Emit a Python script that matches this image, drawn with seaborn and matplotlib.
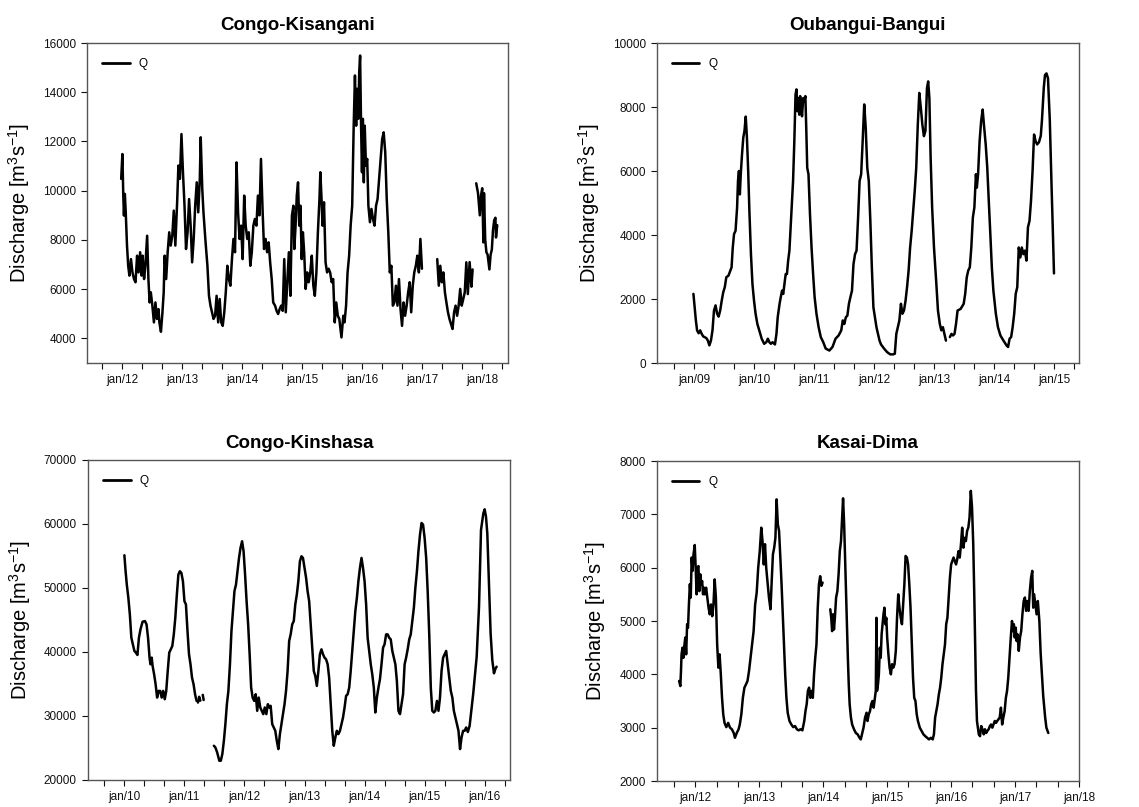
import numpy as np
import pandas as pd
import matplotlib
matplotlib.use("Agg")
import matplotlib.pyplot as plt
import seaborn as sns
from matplotlib.ticker import MultipleLocator, FuncFormatter
from matplotlib.lines import Line2D

N = None

# ---------------- Congo-Kisangani ----------------
kis_t = [2011.980, 2012.000, 2012.015, 2012.026, 2012.041, 2012.056, 2012.077, 2012.097, 2012.117, 2012.143,
         2012.168, 2012.194, 2012.219, 2012.245, 2012.270, 2012.296, 2012.321, 2012.337, 2012.362, 2012.383,
         2012.413, 2012.434, 2012.454, 2012.474, 2012.500, 2012.526, 2012.551, 2012.577, 2012.602, 2012.617,
         2012.643, 2012.668, 2012.689, 2012.704, 2012.730, 2012.755, 2012.781, 2012.806, 2012.832, 2012.857,
         2012.883, 2012.913, 2012.934, 2012.959, 2012.985, 2013.010, 2013.036, 2013.061, 2013.087, 2013.112,
         2013.138, 2013.163, 2013.189, 2013.214, 2013.240, 2013.265, 2013.291, 2013.306, 2013.332, 2013.352,
         2013.383, 2013.418, 2013.444, 2013.469, 2013.495, 2013.520, 2013.546, 2013.571, 2013.597, 2013.622,
         2013.648, 2013.673, 2013.699, 2013.724, 2013.750, 2013.776, 2013.801, 2013.827, 2013.852, 2013.878,
         2013.903, 2013.929, 2013.954, 2013.980, 2014.005, 2014.031, 2014.056, 2014.082, 2014.107, 2014.133,
         2014.158, 2014.184, 2014.209, 2014.235, 2014.260, 2014.286, 2014.311, 2014.337, 2014.362, 2014.388,
         2014.413, 2014.439, 2014.464, 2014.490, 2014.515, 2014.546, 2014.571, 2014.597, 2014.622, 2014.648,
         2014.673, 2014.699, 2014.724, 2014.750, 2014.776, 2014.801, 2014.827, 2014.852, 2014.867, 2014.888,
         2014.908, 2014.929, 2014.949, 2014.969, 2014.990, 2015.010, 2015.031, 2015.056, 2015.082, 2015.107,
         2015.133, 2015.158, 2015.184, 2015.209, 2015.235, 2015.260, 2015.286, 2015.301, 2015.321, 2015.337,
         2015.362, 2015.388, 2015.413, 2015.439, 2015.464, 2015.490, 2015.515, 2015.541, 2015.566, 2015.592,
         2015.617, 2015.653, 2015.684, 2015.704, 2015.730, 2015.755, 2015.781, 2015.806, 2015.832, 2015.857,
         2015.878, 2015.898, 2015.913, 2015.934, 2015.949, 2015.964, 2015.980, 2015.995, 2016.010, 2016.026,
         2016.041, 2016.061, 2016.082, 2016.102, 2016.128, 2016.153, 2016.179, 2016.204, 2016.230, 2016.255,
         2016.281, 2016.306, 2016.332, 2016.357, 2016.383, 2016.408, 2016.434, 2016.459, 2016.485, 2016.510,
         2016.536, 2016.561, 2016.587, 2016.612, 2016.638, 2016.663, 2016.689, 2016.714, 2016.740, 2016.765,
         2016.791, 2016.816, 2016.842, 2016.867, 2016.893, 2016.918, 2016.944, 2016.969, 2016.995, 2017.100,
         2017.250, 2017.276, 2017.301, 2017.327, 2017.352, 2017.378, 2017.403, 2017.429, 2017.454, 2017.480,
         2017.505, 2017.531, 2017.556, 2017.582, 2017.607, 2017.633, 2017.658, 2017.684, 2017.709, 2017.735,
         2017.760, 2017.790, 2017.820, 2017.840, 2017.870, 2017.900, 2017.930, 2017.960, 2017.980, 2018.000,
         2018.020, 2018.030, 2018.050, 2018.070, 2018.090, 2018.120, 2018.140, 2018.160, 2018.180, 2018.200,
         2018.220, 2018.230, 2018.250]
kis_q = [10480, 11490, 9800, 8990, 9870, 9120, 7770, 6950, 6550, 7220,
         6680, 6410, 6280, 7360, 6680, 7500, 6550, 7360, 6410, 6950,
         8170, 6410, 5460, 5870, 5330, 4650, 5460, 4790, 5190, 4650,
         4270, 5060, 5870, 7360, 6410, 7500, 8310, 7770, 8170, 9190,
         7770, 9530, 11020, 10480, 12300, 10750, 9390, 7630, 8310, 9660,
         8580, 7090, 8040, 9390, 10340, 9120, 10480, 12170, 10070, 9120,
         8040, 6950, 5730, 5330, 5060, 4790, 4920, 5730, 4650, 5600,
         4650, 4510, 5060, 5870, 6950, 6410, 6140, 7220, 8040, 7500,
         11150, 9120, 8040, 8580, 7220, 9800, 8580, 8040, 8310, 6950,
         7500, 8580, 8850, 8580, 9800, 9000, 11290, 9260, 7630, 8040,
         7500, 7900, 7090, 6410, 5460, 5330, 5120, 4990, 5190, 5330,
         5120, 7220, 5060, 6280, 7500, 5730, 8990, 9390, 7630, 8580,
         9800, 10340, 8580, 9390, 7220, 8310, 7500, 6010, 6680, 6280,
         6680, 7360, 6140, 5730, 6680, 8310, 9660, 10750, 9660, 8580,
         9530, 7090, 6680, 6830, 6680, 6280, 6410, 4650, 5460, 4920,
         4790, 4040, 4920, 4650, 5330, 6680, 7360, 8580, 9390, 12640,
         14680, 12640, 14140, 12920, 14810, 15490, 12640, 10750, 12920, 10340,
         12640, 11020, 11290, 9390, 8720, 9260, 8850, 8580, 9390, 9660,
         10480, 11290, 12100, 12370, 11560, 9660, 8310, 6680, 6950, 5330,
         5460, 6140, 5330, 6410, 5190, 4510, 5460, 4920, 5330, 5870,
         6280, 5060, 6140, 6680, 6950, 7360, 6680, 8040, 6830, N,
         7220, 6140, 6950, 6280, 6680, 5870, 5460, 5060, 4790, 4580,
         4380, 5060, 5330, 4920, 5330, 6010, 5330, 5600, 5870, 7090,
         5800, 7100, 6100, 6800, N, 10300, 9900, 9000, 9800, 10100,
         7900, 9900, 8000, 7500, 7400, 6800, 7400, 7600, 8400, 8800,
         8900, 8100, 8600]

# ---------------- Oubangui-Bangui ----------------
oub_t = [2008.990, 2009.010, 2009.031, 2009.051, 2009.077, 2009.103, 2009.128, 2009.154, 2009.205, 2009.231,
         2009.256, 2009.282, 2009.308, 2009.333, 2009.359, 2009.385, 2009.410, 2009.436, 2009.462, 2009.487,
         2009.513, 2009.538, 2009.574, 2009.605, 2009.626, 2009.646, 2009.667, 2009.692, 2009.718, 2009.733,
         2009.749, 2009.764, 2009.779, 2009.800, 2009.821, 2009.841, 2009.862, 2009.882, 2009.903, 2009.923,
         2009.949, 2009.974, 2010.000, 2010.026, 2010.056, 2010.087, 2010.128, 2010.169, 2010.205, 2010.231,
         2010.256, 2010.282, 2010.308, 2010.349, 2010.374, 2010.395, 2010.426, 2010.446, 2010.467, 2010.487,
         2010.508, 2010.528, 2010.549, 2010.569, 2010.590, 2010.610, 2010.631, 2010.651, 2010.672, 2010.692,
         2010.708, 2010.723, 2010.738, 2010.754, 2010.769, 2010.785, 2010.800, 2010.821, 2010.836, 2010.856,
         2010.872, 2010.887, 2010.908, 2010.933, 2010.959, 2010.985, 2011.010, 2011.041, 2011.077, 2011.113,
         2011.154, 2011.195, 2011.256, 2011.308, 2011.359, 2011.410, 2011.454, 2011.480, 2011.505, 2011.531,
         2011.556, 2011.582, 2011.607, 2011.633, 2011.658, 2011.684, 2011.709, 2011.735, 2011.760, 2011.786,
         2011.811, 2011.837, 2011.862, 2011.888, 2011.913, 2011.939, 2011.964, 2011.990, 2012.015, 2012.041,
         2012.066, 2012.092, 2012.117, 2012.168, 2012.219, 2012.270, 2012.321, 2012.347, 2012.372, 2012.398,
         2012.423, 2012.449, 2012.474, 2012.500, 2012.526, 2012.551, 2012.577, 2012.602, 2012.628, 2012.653,
         2012.679, 2012.704, 2012.730, 2012.755, 2012.781, 2012.806, 2012.832, 2012.857, 2012.883, 2012.903,
         2012.923, 2012.944, 2012.969, 2013.000, 2013.036, 2013.066, 2013.097, 2013.122, 2013.148, 2013.173,
         2013.199, 2013.230, 2013.265, 2013.291, 2013.316, 2013.342, 2013.367, 2013.393, 2013.444, 2013.495,
         2013.520, 2013.546, 2013.571, 2013.597, 2013.622, 2013.648, 2013.673, 2013.699, 2013.714, 2013.735,
         2013.760, 2013.786, 2013.811, 2013.837, 2013.862, 2013.888, 2013.913, 2013.939, 2013.964, 2013.990,
         2014.031, 2014.066, 2014.107, 2014.158, 2014.209, 2014.235, 2014.260, 2014.286, 2014.311, 2014.337,
         2014.362, 2014.388, 2014.413, 2014.439, 2014.464, 2014.490, 2014.515, 2014.541, 2014.566, 2014.592,
         2014.617, 2014.643, 2014.668, 2014.694, 2014.719, 2014.750, 2014.780, 2014.800, 2014.830, 2014.850,
         2014.875, 2014.900, 2014.930, 2014.960, 2014.980, 2015.000]
oub_q = [2160, 1740, 1330, 1020, 930, 1020, 910, 830, 780, 700,
         550, 700, 1020, 1640, 1800, 1540, 1450, 1640, 1950, 2210,
         2370, 2680, 2730, 2890, 2990, 3610, 4030, 4130, 4860, 5690,
         6000, 5270, 5900, 6520, 7040, 7250, 7700, 7040, 6000, 4750,
         3400, 2470, 1950, 1540, 1220, 1020, 760, 600, 650, 760,
         650, 600, 650, 580, 910, 1430, 1850, 2060, 2260, 2160,
         2470, 2780, 2780, 3200, 3510, 4240, 4960, 5690, 6930, 8390,
         8550, 7870, 8280, 7760, 8340, 8080, 7710, 8280, 8180, 8340,
         7250, 6100, 5900, 4650, 3610, 2780, 2060, 1540, 1120, 810,
         650, 450, 390, 500, 760, 860, 1020, 1330, 1220, 1430,
         1480, 1850, 2060, 2260, 3090, 3400, 3510, 4550, 5690, 5900,
         6930, 8080, 7350, 6100, 5690, 4440, 2990, 1740, 1430, 1120,
         910, 700, 580, 450, 340, 270, 270, 290, 910, 1120,
         1330, 1850, 1540, 1640, 1950, 2370, 2890, 3610, 4130, 4750,
         5380, 6100, 7450, 8440, 7970, 7450, 7090, 7250, 8590, 8800,
         8280, 6410, 4860, 3610, 2570, 1640, 1220, 1020, 1120, 910,
         700, N, 810, 910, 860, 910, 1220, 1640, 1690, 1850,
         2160, 2680, 2890, 2990, 3610, 4550, 4860, 5900, 5480, 5900,
         6930, 7560, 7920, 7350, 6830, 6100, 5070, 4030, 2990, 2260,
         1540, 1120, 860, 700, 550, 500, 760, 810, 1120, 1540,
         2160, 2370, 3610, 3300, 3610, 3400, 3510, 3200, 4240, 4440,
         5070, 6000, 7140, 6930, 6830, 6900, 7100, 7600, 8600, 9000,
         9050, 8900, 7600, 5500, 4200, 2800]

# ---------------- Congo-Kinshasa ----------------
kin_t = [2010.000, 2010.020, 2010.040, 2010.066, 2010.091, 2010.116, 2010.141, 2010.167, 2010.192, 2010.217,
         2010.242, 2010.268, 2010.303, 2010.343, 2010.369, 2010.394, 2010.419, 2010.434, 2010.455, 2010.470,
         2010.495, 2010.520, 2010.545, 2010.571, 2010.596, 2010.621, 2010.646, 2010.672, 2010.697, 2010.722,
         2010.747, 2010.773, 2010.798, 2010.823, 2010.848, 2010.874, 2010.899, 2010.924, 2010.949, 2010.975,
         2011.000, 2011.025, 2011.051, 2011.076, 2011.101, 2011.126, 2011.152, 2011.177, 2011.202, 2011.212,
         2011.225, 2011.245, 2011.265, 2011.290, 2011.305, 2011.320, 2011.340, 2011.400,
         2011.490, 2011.515, 2011.545, 2011.581, 2011.606, 2011.631, 2011.657, 2011.682, 2011.707, 2011.732,
         2011.758, 2011.783, 2011.808, 2011.833, 2011.859, 2011.884, 2011.909, 2011.934, 2011.960, 2011.985,
         2012.010, 2012.035, 2012.061, 2012.086, 2012.111, 2012.136, 2012.162, 2012.187, 2012.212, 2012.237,
         2012.263, 2012.288, 2012.313, 2012.338, 2012.364, 2012.389, 2012.414, 2012.436, 2012.462, 2012.487,
         2012.513, 2012.538, 2012.564, 2012.590, 2012.615, 2012.641, 2012.667, 2012.692, 2012.718, 2012.744,
         2012.769, 2012.795, 2012.821, 2012.846, 2012.872, 2012.897, 2012.923, 2012.949, 2012.974, 2013.000,
         2013.026, 2013.051, 2013.077, 2013.103, 2013.128, 2013.154, 2013.179, 2013.205, 2013.231, 2013.256,
         2013.282, 2013.308, 2013.333, 2013.359, 2013.385, 2013.410, 2013.436, 2013.462, 2013.487, 2013.513,
         2013.538, 2013.564, 2013.590, 2013.615, 2013.641, 2013.667, 2013.692, 2013.718, 2013.744, 2013.769,
         2013.795, 2013.821, 2013.846, 2013.872, 2013.897, 2013.923, 2013.949, 2013.974, 2014.000, 2014.026,
         2014.051, 2014.077, 2014.103, 2014.128, 2014.154, 2014.179, 2014.205, 2014.231, 2014.256, 2014.282,
         2014.308, 2014.333, 2014.359, 2014.385, 2014.410, 2014.436, 2014.462, 2014.487, 2014.513, 2014.538,
         2014.564, 2014.590, 2014.615, 2014.641, 2014.667, 2014.692, 2014.718, 2014.744, 2014.769, 2014.795,
         2014.821, 2014.846, 2014.872, 2014.897, 2014.923, 2014.949, 2014.974, 2015.000, 2015.026, 2015.051,
         2015.077, 2015.103, 2015.128, 2015.154, 2015.179, 2015.205, 2015.231, 2015.256, 2015.282, 2015.308,
         2015.333, 2015.359, 2015.385, 2015.410, 2015.436, 2015.462, 2015.487, 2015.513, 2015.538, 2015.564,
         2015.590, 2015.615, 2015.641, 2015.667, 2015.692, 2015.720, 2015.750, 2015.780, 2015.810, 2015.867,
         2015.906, 2015.939, 2015.978, 2016.000, 2016.022, 2016.044, 2016.072, 2016.099, 2016.127, 2016.155,
         2016.182, 2016.199]
kin_q = [55120, 52620, 50550, 48470, 45870, 42230, 41200, 40160, 39900, 39530,
         42230, 43530, 44730, 44830, 44310, 42230, 39120, 38080, 39120, 37820,
         36520, 34960, 32880, 33920, 33920, 32880, 33920, 32620, 33920, 37040,
         39900, 40420, 40940, 42750, 45350, 48990, 52100, 52620, 52360, 51060,
         47950, 47430, 43270, 39640, 38080, 36000, 34960, 33400, 32360, N,
         32100, 33000, 32400, N, 33300, 32500, N, N,
         25350, 25090, 24310, 23010, 23010, 24050, 26130, 28730, 31850, 33920,
         38080, 43270, 46390, 49510, 50550, 52620, 54700, 56260, 57300, 55740,
         52100, 47950, 44310, 39640, 34440, 32880, 32360, 33400, 30810, 32880,
         31330, 30810, 30290, 31330, 30290, 31850, 31330, 31590, 28730, 28210,
         27690, 26130, 24830, 27170, 28730, 30290, 31850, 33920, 37040, 41710,
         42750, 44310, 44830, 47430, 48990, 51060, 54180, 54960, 54700, 53140,
         51590, 49510, 47950, 44310, 40680, 37040, 36260, 34700, 37040, 39640,
         40420, 39640, 39120, 38860, 38080, 36000, 31850, 27690, 25350, 26650,
         27690, 27170, 27690, 28730, 29770, 31330, 33140, 33400, 34440, 37040,
         40160, 43270, 46390, 48470, 51060, 53140, 54700, 53140, 51060, 47430,
         42230, 40160, 38080, 36520, 34440, 30550, 32880, 34440, 35740, 38080,
         40680, 41200, 42750, 42750, 42230, 41970, 40160, 39120, 38080, 35480,
         30810, 30290, 31850, 33400, 38080, 39120, 40420, 41970, 42750, 44830,
         46910, 50030, 52620, 55740, 58340, 60160, 59900, 57820, 54700, 49510,
         42750, 34440, 30810, 30550, 30810, 32360, 30810, 32880, 37040, 39120,
         39640, 40160, 38080, 36000, 33920, 32880, 30810, 29770, 28730, 27690,
         24830, 26650, 27690, 27690, 28210, 27500, 28500, 31000, 33540, 39270,
         47080, 59060, 61670, 62290, 61150, 58540, 50730, 42920, 38750, 36670,
         37450, 37700]

# ---------------- Kasai-Dima ----------------
kas_t = [2011.746, 2011.765, 2011.775, 2011.784, 2011.799, 2011.813, 2011.827, 2011.842, 2011.856, 2011.871,
         2011.885, 2011.899, 2011.914, 2011.928, 2011.942, 2011.957, 2011.971, 2011.990, 2012.005, 2012.019,
         2012.034, 2012.048, 2012.062, 2012.077, 2012.091, 2012.106, 2012.120, 2012.134, 2012.149, 2012.168,
         2012.187, 2012.206, 2012.225, 2012.245, 2012.264, 2012.283, 2012.302, 2012.321, 2012.341, 2012.360,
         2012.379, 2012.398, 2012.417, 2012.436, 2012.456, 2012.484, 2012.513, 2012.542, 2012.571, 2012.600,
         2012.619, 2012.647, 2012.676, 2012.695, 2012.719, 2012.743, 2012.767, 2012.791, 2012.815, 2012.839,
         2012.863, 2012.887, 2012.911, 2012.935, 2012.959, 2012.983, 2013.007, 2013.031, 2013.050, 2013.070,
         2013.089, 2013.108, 2013.127, 2013.151, 2013.175, 2013.194, 2013.213, 2013.233, 2013.252, 2013.271,
         2013.290, 2013.309, 2013.329, 2013.348, 2013.367, 2013.386, 2013.405, 2013.424, 2013.444, 2013.472,
         2013.501, 2013.530, 2013.559, 2013.588, 2013.616, 2013.645, 2013.674, 2013.703, 2013.722, 2013.741,
         2013.760, 2013.779, 2013.799, 2013.818, 2013.837, 2013.856, 2013.875, 2013.894, 2013.914, 2013.933,
         2013.952, 2013.971, 2013.990, 2014.050,
         2014.110, 2014.125, 2014.139, 2014.153, 2014.168, 2014.182, 2014.201, 2014.221, 2014.240, 2014.259,
         2014.278, 2014.297, 2014.310, 2014.327, 2014.341, 2014.356, 2014.370, 2014.385, 2014.399, 2014.413,
         2014.433, 2014.452, 2014.481, 2014.510, 2014.538, 2014.567, 2014.587, 2014.606, 2014.630, 2014.654,
         2014.678, 2014.692, 2014.712, 2014.731, 2014.750, 2014.769, 2014.788, 2014.808, 2014.822, 2014.832,
         2014.841, 2014.856, 2014.870, 2014.885, 2014.899, 2014.913, 2014.928, 2014.942, 2014.957, 2014.971,
         2014.986, 2015.000, 2015.019, 2015.038, 2015.058, 2015.077, 2015.096, 2015.115, 2015.135, 2015.154,
         2015.173, 2015.192, 2015.212, 2015.231, 2015.250, 2015.269, 2015.288, 2015.308, 2015.327, 2015.346,
         2015.365, 2015.385, 2015.404, 2015.423, 2015.442, 2015.462, 2015.481, 2015.510, 2015.538, 2015.567,
         2015.596, 2015.625, 2015.654, 2015.683, 2015.712, 2015.731, 2015.750, 2015.769, 2015.788, 2015.808,
         2015.827, 2015.846, 2015.865, 2015.885, 2015.904, 2015.923, 2015.942, 2015.962, 2015.981, 2016.000,
         2016.019, 2016.038, 2016.058, 2016.077, 2016.096, 2016.115, 2016.135, 2016.154, 2016.173, 2016.192,
         2016.212, 2016.231, 2016.250, 2016.269, 2016.288, 2016.308, 2016.327, 2016.346, 2016.361, 2016.375,
         2016.389, 2016.404, 2016.418, 2016.433, 2016.452, 2016.471, 2016.490, 2016.510, 2016.529, 2016.548,
         2016.567, 2016.587, 2016.606, 2016.625, 2016.644, 2016.663, 2016.683, 2016.702, 2016.721, 2016.760,
         2016.779, 2016.798, 2016.817, 2016.837, 2016.856, 2016.875, 2016.894, 2016.913, 2016.933, 2016.952,
         2016.966, 2016.981, 2016.995, 2017.010, 2017.024, 2017.038, 2017.058, 2017.077, 2017.096, 2017.115,
         2017.135, 2017.154, 2017.173, 2017.192, 2017.212, 2017.231, 2017.250, 2017.269, 2017.284, 2017.298,
         2017.317, 2017.337, 2017.356, 2017.380, 2017.400, 2017.420, 2017.440, 2017.470, 2017.490, 2017.520]
kas_q = [3875, 3780, 4060, 4375, 4500, 4310, 4530, 4690, 4375, 4940,
         4875, 5310, 5690, 5440, 6190, 5940, 6250, 6425, 6000, 5500,
         6000, 6030, 5560, 5875, 5690, 5750, 5500, 5625, 5500, 5625,
         5440, 5250, 5125, 5310, 5090, 5310, 5780, 5440, 4560, 4125,
         4375, 4000, 3560, 3250, 3090, 3010, 3090, 3000, 2970, 2900,
         2810, 2900, 2970, 3060, 3250, 3560, 3750, 3810, 3875, 4060,
         4310, 4560, 4810, 5310, 5530, 6000, 6310, 6750, 6500, 6060,
         6440, 6000, 5750, 5440, 5220, 5750, 6250, 6375, 6560, 7280,
         6810, 6690, 6190, 5690, 5125, 4560, 4000, 3560, 3280, 3125,
         3060, 3010, 3030, 2970, 2950, 2970, 2950, 3125, 3310, 3440,
         3690, 3750, 3560, 3690, 3560, 4000, 4310, 4560, 5250, 5690,
         5840, 5660, 5720, N,
         5220, 5060, 4810, 5125, 4840, 5060, 5440, 5560, 5875, 6310,
         6500, 7000, 7300, 6810, 6190, 5560, 4940, 4310, 3810, 3440,
         3190, 3060, 2970, 2900, 2875, 2810, 2780, 2875, 3000, 3190,
         3280, 3125, 3250, 3310, 3440, 3500, 3375, 3560, 3690, 5060,
         3690, 3810, 4000, 4500, 4310, 4750, 4940, 5125, 5250, 4940,
         5060, 4690, 4375, 4125, 4000, 4190, 4125, 4190, 4440, 5060,
         5500, 5250, 5060, 4940, 5310, 5690, 6220, 6190, 6060, 5690,
         5250, 4560, 3940, 3560, 3500, 3250, 3125, 3000, 2940, 2875,
         2840, 2810, 2780, 2810, 2780, 2875, 3190, 3310, 3440, 3625,
         3750, 3940, 4190, 4375, 4560, 4940, 5060, 5440, 5810, 6060,
         6125, 6190, 6125, 6060, 6160, 6310, 6190, 6440, 6750, 6375,
         6560, 6500, 6690, 6750, 6940, 7440, 7125, 6440, 5560, 4625,
         3690, 3125, 3000, 2875, 2840, 3030, 2970, 2875, 2970, 2900,
         2940, 2970, 3030, 3060, 3000, 3060, 3125, 3090, 3125, 3190,
         3375, 3060, 3190, 3310, 3560, 3690, 3940, 4310, 4690, 5000,
         4810, 4940, 4690, 4875, 4625, 4750, 4440, 4690, 4810, 5125,
         5375, 5440, 5190, 5375, 5190, 5560, 5810, 5940, 5250, 5500,
         5310, 5125, 5375, 5000, 4400, 4000, 3600, 3200, 3000, 2900]

W, H = 1139, 807

sns.set_theme(style="ticks")
plt.rcParams["font.family"] = ["Liberation Sans", "DejaVu Sans"]
plt.rcParams["mathtext.fontset"] = "custom"
plt.rcParams["mathtext.rm"] = "Liberation Sans"
plt.rcParams["mathtext.it"] = "Liberation Sans"
plt.rcParams["mathtext.bf"] = "Liberation Sans:bold"
plt.rcParams["text.color"] = "black"
plt.rcParams["axes.labelcolor"] = "black"

fig = plt.figure(figsize=(W / 100, H / 100), dpi=100)


def box(l, t, r, b):
    return [l / W, 1 - b / H, (r - l) / W, (b - t) / H]


def to_frame(t, q):
    q = np.array([np.nan if v is None else v for v in q], dtype=float)
    seg = np.cumsum(np.isnan(q))
    df = pd.DataFrame({"t": t, "q": q, "seg": seg})
    return df.dropna()


def year_fmt(x, pos):
    if abs(x - round(x)) < 1e-6:
        return "jan/%02d" % (int(round(x)) % 100)
    return ""


panels = [
    ("Congo-Kisangani", kis_t, kis_q, box(87, 43, 508, 363), (2011.41, 2018.43), (3000, 16000), range(4000, 16001, 2000)),
    ("Oubangui-Bangui", oub_t, oub_q, box(657, 43, 1079, 363), (2008.383, 2015.417), (0, 10000), range(0, 10001, 2000)),
    ("Congo-Kinshasa", kin_t, kin_q, box(88, 460, 510, 780), (2009.394, 2016.422), (20000, 70000), range(20000, 70001, 10000)),
    ("Kasai-Dima", kas_t, kas_q, box(657, 461, 1079, 781), (2011.40, 2018.0), (2000, 8000), range(2000, 8001, 1000)),
]

for title, t, q, pos, xlim, ylim, yt in panels:
    ax = fig.add_axes(pos)
    df = to_frame(t, q)
    sns.lineplot(data=df, x="t", y="q", units="seg", estimator=None,
                 color="black", linewidth=1.8, ax=ax)
    ax.set_xlim(*xlim)
    ax.set_ylim(*ylim)
    ax.set_yticks(list(yt))
    ax.xaxis.set_major_locator(MultipleLocator(1 / 3))
    ax.xaxis.set_major_formatter(FuncFormatter(year_fmt))
    ax.set_xlabel("")
    ax.set_ylabel(r"Discharge [m$^{3}$s$^{-1}$]", fontsize=14.5, labelpad=8, color="black")
    ax.set_title(title, fontsize=13.5, fontweight="bold", pad=9, color="black")
    ax.tick_params(direction="out", length=4, width=0.8, labelsize=8.5, colors="#111111", pad=4)
    for s in ax.spines.values():
        s.set_visible(True)
        s.set_color("#555555")
        s.set_linewidth(1.0)
    ax.legend([Line2D([0], [0], color="black", lw=2)], ["Q"], loc="upper left",
              frameon=False, fontsize=8.5, handlelength=2.3, borderaxespad=0.9,
              labelcolor="black")

fig.savefig("out.png", dpi=100, facecolor="white")
